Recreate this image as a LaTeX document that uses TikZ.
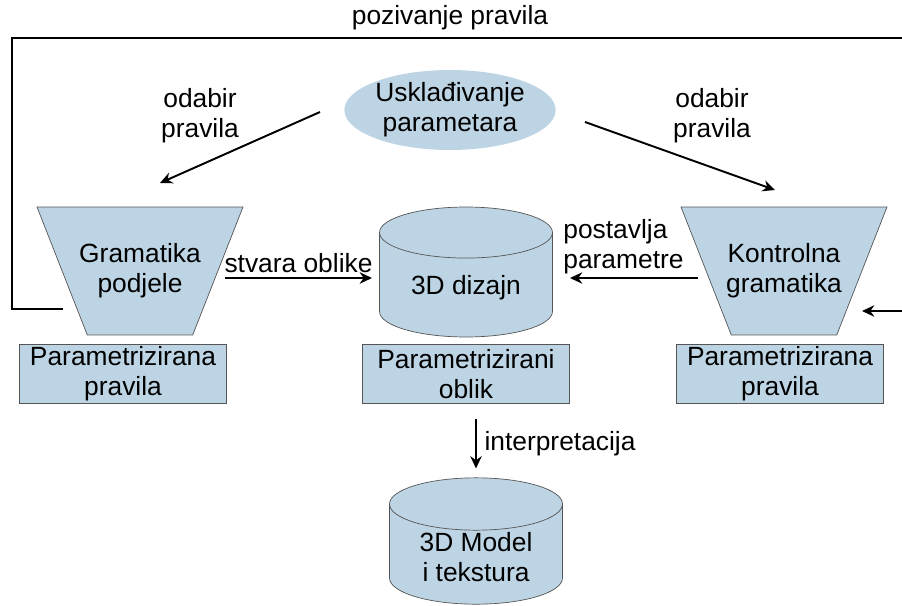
\documentclass[tikz,border=0pt]{standalone}
\usepackage{fontspec}
\setmainfont{Liberation Sans}
\usetikzlibrary{positioning,calc}
\usetikzlibrary{shapes.geometric,arrows.meta}
\definecolor{plava}{RGB}{189,212,228}
\definecolor{rub}{RGB}{85,85,85}
\tikzstyle{gram} = [trapezium, shape border rotate=180, trapezium left angle=68, trapezium right angle=68, trapezium stretches body=true, minimum width=4.12cm, minimum height=2.56cm, inner xsep=-0.18cm, inner ysep=0.7cm, draw=rub, fill=plava, align=center]
\tikzstyle{baza} = [cylinder, shape border rotate=90, aspect=0.45, minimum width=3.46cm, minimum height=2.6cm, inner sep=1pt, draw=rub, fill=plava, align=center, anchor=shape center]
\tikzstyle{okvir} = [rectangle, minimum width=4.14cm, minimum height=1.18cm, inner sep=0pt, draw=rub, fill=plava, align=center]
\tikzstyle{tok} = [line width=1.1pt, -{Stealth[length=7pt,width=6.5pt]}]

\begin{document}
\begin{tikzpicture}[x=0.02cm, y=-0.02cm, every node/.style={font=\fontsize{15}{17}\selectfont}]
      \useasboundingbox (0,0) rectangle (902,605);
      %%%%%%%%%%%%%%%%%%%%%%%%%%%%%%%%%%%%%%%
      \draw (450,18) node (poziv) {pozivanje pravila};
      \draw (450,110) node (uskl) [ellipse, fill=plava, inner sep=0pt, minimum width=4.08cm, minimum height=1.6cm, align=center] {Usklađivanje\\parametara};
      \draw (200,116) node (odabirL) [align=center] {odabir\\pravila};
      \draw (712,116) node (odabirR) [align=center] {odabir\\pravila};
      \draw (140,271) node (gpod) [gram] {Gramatika\\podjele};
      \draw (784,271) node (kgram) [gram, inner xsep=-0.12cm] {Kontrolna\\gramatika};
      \draw (466,272) node (dizajn) [baza] {3D dizajn};
      \draw (123,374) node (ppL) [okvir] {Parametrizirana\\pravila};
      \draw (466,374) node (pob) [okvir] {Parametrizirani\\oblik};
      \draw (780,374) node (ppR) [okvir] {Parametrizirana\\pravila};
      \draw (476,541) node (model) [baza, minimum height=2.4cm] {3D Model\\i tekstura};
      \coordinate (lijevo) at (12,38);
      \coordinate (desno) at (903,38);
      \coordinate (ulaz) at (903,311);
      \draw[tok] ($(uskl.center)+(-130,2)$) -- ($(gpod.center)+(20,-88)$);
      \draw[tok] ($(uskl.center)+(135,12)$) -- ($(kgram.center)+(-9,-81)$);
      \draw[tok] ($(gpod.center)+(85,7)$) -- node[above, inner sep=2.5pt] {stvara oblike} ($(dizajn.shape center)+(-94,6)$);
      \draw[tok] ($(kgram.center)+(-86,7)$) -- node[above, xshift=-6pt, inner sep=2pt, align=left] {postavlja\\parametre} ($(dizajn.shape center)+(104,6)$);
      \draw[tok] ($(model.north |- pob.south)+(0,15)$) -- node[right, xshift=1pt] {interpretacija} ($(model.north)+(0,-9)$);
      \draw[line width=1.1pt] ($(gpod.center)+(-77,38)$) -| (lijevo) -- (desno);
      \draw[tok] (ulaz) -- ($(kgram.center)+(78,40)$);
      \end{tikzpicture}
\end{document}
